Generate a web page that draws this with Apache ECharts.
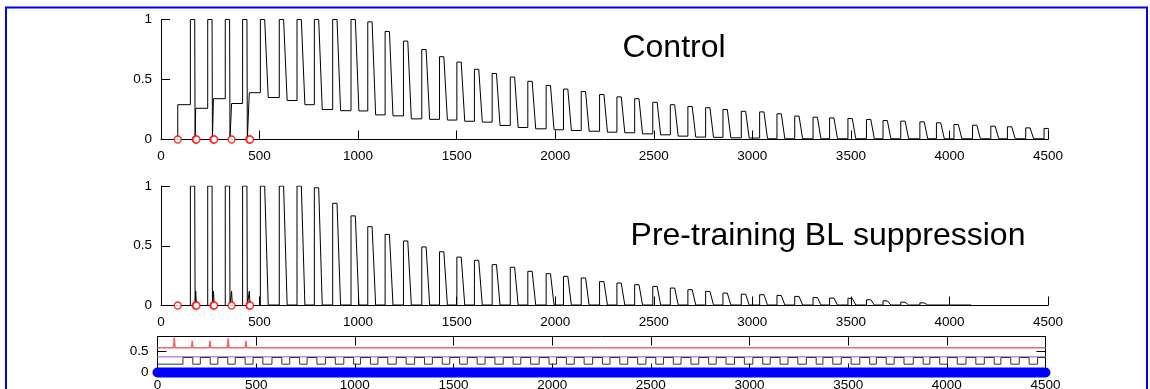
<!DOCTYPE html>
<html><head><meta charset="utf-8">
<script src="https://cdn.jsdelivr.net/npm/echarts@6/dist/echarts.min.js"></script>
<style>html,body{margin:0;padding:0;background:#fff}#c{width:1150px;height:389px}</style>
</head><body><div id="c"></div>
<script>
// ---------- data ----------
const X_TICKS = [0, 500, 1000, 1500, 2000, 2500, 3000, 3500, 4000, 4500];
const Y_TICKS_MAIN = [0, 0.5, 1];
const Y_TICKS_SMALL = [0, 0.5];

// reset (red circle) times, shared by both traces
const RESETS = [85, 176, 266, 358, 448];
const RESETS_ECHO = [180, 270, 452];

// pulse onsets
const ONSETS = [149, 237, 326, 414, 504, 600, 690, 778, 871, 964,
  1049, 1137, 1230, 1323, 1413, 1501, 1590, 1680, 1772, 1861,
  1954, 2042, 2132, 2225, 2313, 2403, 2495, 2584, 2673, 2763,
  2851, 2944, 3037, 3125, 3215, 3308, 3392, 3485, 3579, 3663,
  3753, 3850, 3934, 4023, 4117, 4210, 4294, 4387, 4480];

// Control
const CTRL_PEAKS = [1, 1, 1, 1, 1, 1, 1, 1, 1, 1,
  0.98, 0.90, 0.82, 0.75, 0.69, 0.645, 0.585, 0.55, 0.52, 0.485,
  0.45, 0.42, 0.40, 0.375, 0.355, 0.34, 0.31, 0.29, 0.275, 0.265,
  0.25, 0.235, 0.23, 0.214, 0.195, 0.186, 0.18, 0.175, 0.167, 0.158,
  0.153, 0.147, 0.139, 0.125, 0.119, 0.111, 0.106, 0.097, 0.092];
const CTRL_BASE = [0, 0, 0, 0, 0.35, 0.325, 0.29, 0.25, 0.24, 0.238,
  0.205, 0.197, 0.172, 0.168, 0.162, 0.152, 0.145, 0.117, 0.10, 0.089,
  0.081, 0.075, 0.069, 0.061, 0.056, 0.047, 0.039, 0.028, 0.02, 0.018,
  0.014, 0.012, 0.006, 0.006, 0.006, 0.006, 0.006, 0.006, 0.006, 0.006,
  0.006, 0.006, 0.006, 0.006, 0.006, 0.006, 0.006, 0.006, 0.006];
const CTRL_RESET_LEVEL = [0.29, 0.26, 0.34, 0.30, 0.39];
const CTRL_RESET_PEAK = [0.29, 0.26, 0.34, 0.30, 0.39];
const CTRL_END = 4500;

// Pre-training BL suppression
const SUPP_PEAKS = [1, 1, 1, 1, 1, 1, 1, 0.985, 0.855, 0.75,
  0.66, 0.595, 0.54, 0.49, 0.45, 0.405, 0.378, 0.342, 0.32, 0.286,
  0.266, 0.244, 0.23, 0.20, 0.188, 0.174, 0.16, 0.146, 0.132, 0.118,
  0.104, 0.095, 0.09, 0.084, 0.076, 0.067, 0.062, 0.06, 0.048, 0.039,
  0.028, 0.022];
const SUPP_BASE = [0, 0, 0, 0, 0.004, 0.004, 0.004, 0.004, 0.004, 0.004,
  0.004, 0.004, 0.004, 0.004, 0.004, 0.004, 0.004, 0.004, 0.004, 0.004,
  0.004, 0.004, 0.004, 0.004, 0.004, 0.004, 0.004, 0.004, 0.004, 0.004,
  0.004, 0.004, 0.004, 0.004, 0.004, 0.004, 0.004, 0.004, 0.004, 0.004,
  0.004, 0.004];
const SUPP_RESET_LEVEL = [0, 0, 0, 0, 0];
const SUPP_RESET_PEAK = [0, 0.12, 0.12, 0.12, 0.12];
const SUPP_END = 4110;

// bottom panel
const RED_LEVEL = 0.595;
const RED_SPIKES = [0.84, 0.76, 0.76, 0.82, 0.76];
const PURPLE_LEVEL = 0.38;
const STIM_HIGH = 0.36, STIM_LOW = 0.2;
const BLUE_LEVEL = 0;

// ---------- build traces ----------
const TOP_W = 22, FALL_W = 18;
function buildTrace(onsets, peaks, bases, rLevel, rPeak, endX) {
  const pts = [[0, 0]];
  let lvl = 0, ri = 0;
  for (let k = 0; k < peaks.length; k++) {
    const t = onsets[k];
    while (ri < RESETS.length && RESETS[ri] < t) {
      const r = RESETS[ri];
      pts.push([r, 0]);
      if (rPeak[ri] > rLevel[ri]) { pts.push([r, rPeak[ri]], [r + 4, rLevel[ri]]); }
      else pts.push([r, rLevel[ri]]);
      lvl = rLevel[ri]; ri++;
    }
    pts.push([t, lvl], [t, peaks[k]], [t + TOP_W, peaks[k]]);
    const nextOn = k + 1 < onsets.length ? onsets[k + 1] : Infinity;
    const nextR = ri < RESETS.length ? RESETS[ri] : Infinity;
    if (nextR < nextOn) { pts.push([t + TOP_W + 2, 0]); lvl = 0; }
    else { lvl = bases[k]; pts.push([t + TOP_W + FALL_W, lvl]); }
  }
  pts.push([endX, lvl]);
  return pts;
}
const ctrl = buildTrace(ONSETS, CTRL_PEAKS, CTRL_BASE, CTRL_RESET_LEVEL, CTRL_RESET_PEAK, CTRL_END);
const supp = buildTrace(ONSETS, SUPP_PEAKS, SUPP_BASE, SUPP_RESET_LEVEL, SUPP_RESET_PEAK, SUPP_END);

const circles = RESETS.concat(RESETS_ECHO).map(x => [x, 0]);

const redLine = [[0, RED_LEVEL]];
RESETS.forEach((r, i) => { redLine.push([r - 4, RED_LEVEL], [r, RED_SPIKES[i]], [r + 4, RED_LEVEL]); });
redLine.push([4500, RED_LEVEL]);

const stim = [[0, STIM_LOW]];
ONSETS.forEach(t => { stim.push([t - 20, STIM_LOW], [t - 20, STIM_HIGH], [t + 30, STIM_HIGH], [t + 30, STIM_LOW]); });
stim.push([4500, STIM_LOW]);

// ---------- chart ----------
const FONT = 'Liberation Sans';
const fmt = v => String(v);
function xAx(gi, labels, pos, margin) {
  return {
    type: 'value', gridIndex: gi, min: 0, max: 4500, interval: 500, position: pos || 'bottom',
    axisLine: { onZero: false, lineStyle: { color: '#000', width: 1 } },
    axisTick: { inside: true, length: 9, customValues: X_TICKS, lineStyle: { color: '#000' } },
    axisLabel: { show: labels, customValues: X_TICKS, formatter: fmt, color: '#000', fontSize: 13.5, fontFamily: FONT, margin: margin || 10 },
    splitLine: { show: false }
  };
}
function yAx(gi, max, ticks, labels, pos) {
  return {
    type: 'value', gridIndex: gi, min: 0, max: max, position: pos || 'left',
    axisLine: { onZero: false, lineStyle: { color: '#000', width: 1 } },
    axisTick: { inside: true, length: 9, customValues: ticks, lineStyle: { color: '#000' } },
    axisLabel: { show: labels, customValues: ticks, formatter: fmt, color: '#000', fontSize: 13.5, fontFamily: FONT, margin: 9 },
    splitLine: { show: false }
  };
}
const chart = echarts.init(document.getElementById('c'), null, { renderer: 'canvas' });
chart.setOption({
  animation: false,
  backgroundColor: '#fff',
  grid: [
    { left: 161, width: 887, top: 19.5, height: 120, outerBoundsMode: 'none', containLabel: false },
    { left: 161, width: 887, top: 186, height: 119.5, outerBoundsMode: 'none', containLabel: false },
    { left: 157.5, width: 888, top: 336.5, height: 36, outerBoundsMode: 'none', containLabel: false }
  ],
  xAxis: [xAx(0, true), xAx(1, true), xAx(2, true, 'bottom', 6), xAx(2, false, 'top')],
  yAxis: [yAx(0, 1, Y_TICKS_MAIN, true), yAx(1, 1, Y_TICKS_MAIN, true),
    yAx(2, 0.865, Y_TICKS_SMALL, true), yAx(2, 0.865, Y_TICKS_SMALL, false, 'right')],
  series: [
    { type: 'line', xAxisIndex: 0, yAxisIndex: 0, data: ctrl, showSymbol: false, lineStyle: { color: '#000', width: 1 }, z: 3 },
    { type: 'scatter', xAxisIndex: 0, yAxisIndex: 0, data: circles, symbol: 'circle', symbolSize: 7, itemStyle: { color: '#fff', borderColor: '#ff0000', borderWidth: 1.3 }, z: 5, clip: false },
    { type: 'line', xAxisIndex: 1, yAxisIndex: 1, data: supp, showSymbol: false, lineStyle: { color: '#000', width: 1 }, z: 3 },
    { type: 'scatter', xAxisIndex: 1, yAxisIndex: 1, data: circles, symbol: 'circle', symbolSize: 7, itemStyle: { color: '#fff', borderColor: '#ff0000', borderWidth: 1.3 }, z: 5, clip: false },
    { type: 'line', xAxisIndex: 2, yAxisIndex: 2, data: redLine, showSymbol: false, lineStyle: { color: '#f06868', width: 1.5 }, z: 3 },
    { type: 'line', xAxisIndex: 2, yAxisIndex: 2, data: [[0, PURPLE_LEVEL], [4500, PURPLE_LEVEL]], showSymbol: false, lineStyle: { color: '#c888e0', width: 1.5 }, z: 3 },
    { type: 'line', xAxisIndex: 2, yAxisIndex: 2, data: stim, showSymbol: false, lineStyle: { color: '#333', width: 1 }, z: 3 },
    { type: 'line', xAxisIndex: 2, yAxisIndex: 2, data: [[0, BLUE_LEVEL], [4500, BLUE_LEVEL]], showSymbol: false, clip: false, lineStyle: { color: '#0000ff', width: 10, cap: 'round' }, z: 4 }
  ],
  graphic: [
    { type: 'rect', shape: { x: 6, y: 7.5, width: 1141, height: 420 }, style: { fill: 'none', stroke: '#0000ff', lineWidth: 2 }, z: 10 },
    { type: 'text', style: { text: 'Control', x: 674, y: 48, font: '32px "Liberation Sans"', fill: '#000', textAlign: 'center', textVerticalAlign: 'middle' }, z: 10 },
    { type: 'text', style: { text: 'Pre-training BL suppression', x: 828, y: 236, font: '32px "Liberation Sans"', fill: '#000', textAlign: 'center', textVerticalAlign: 'middle' }, z: 10 }
  ]
});
</script></body></html>
